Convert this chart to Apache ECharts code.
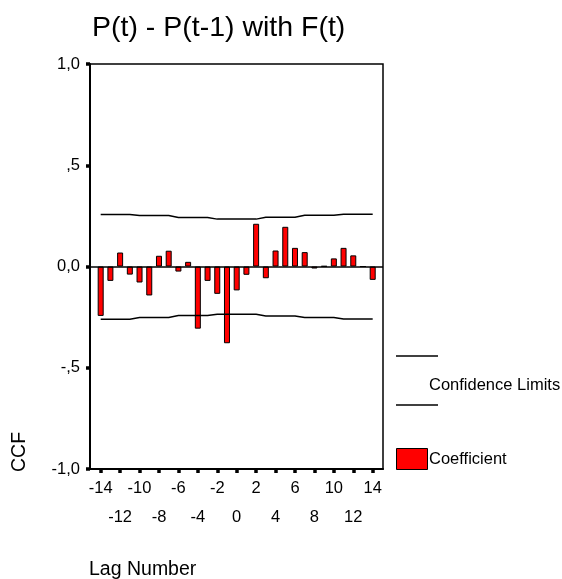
<!DOCTYPE html>
<html>
<head>
<meta charset="utf-8">
<title>CCF</title>
<script src="https://cdn.jsdelivr.net/npm/echarts@6/dist/echarts.min.js"></script>
<style>
  html, body { margin: 0; padding: 0; background: #fff; }
  #chart { width: 562px; height: 579px; }
</style>
</head>
<body>
<div id="chart"></div>
<script>
// Cross-correlation of P(t) - P(t-1) with F(t), lags -14..14
const lags = [-14, -13, -12, -11, -10, -9, -8, -7, -6, -5, -4, -3, -2, -1, 0,
              1, 2, 3, 4, 5, 6, 7, 8, 9, 10, 11, 12, 13, 14];
const coefficient = [-0.244, -0.071, 0.069, -0.040, -0.079, -0.143, 0.053, 0.078, -0.025, 0.023,
                     -0.307, -0.071, -0.135, -0.379, -0.118, -0.041, 0.211, -0.058, 0.079, 0.196,
                     0.092, 0.071, -0.010, 0.002, 0.040, 0.092, 0.055, 0.000, -0.066];
const upperLimit = [0.257, 0.257, 0.257, 0.257, 0.252, 0.252, 0.252, 0.252, 0.242, 0.242,
                    0.242, 0.242, 0.234, 0.234, 0.234, 0.234, 0.234, 0.243, 0.243, 0.243,
                    0.243, 0.253, 0.253, 0.253, 0.253, 0.258, 0.258, 0.258, 0.258];
const lowerLimit = [-0.260, -0.260, -0.260, -0.260, -0.252, -0.252, -0.252, -0.252, -0.242, -0.242,
                    -0.242, -0.242, -0.236, -0.236, -0.236, -0.236, -0.236, -0.244, -0.244, -0.244,
                    -0.244, -0.252, -0.252, -0.252, -0.252, -0.259, -0.259, -0.259, -0.259];
// lag tick marks, and the two staggered rows of lag labels
const xTicks = [-14, -12, -10, -8, -6, -4, -2, 0, 2, 4, 6, 8, 10, 12, 14];
const xLabelsUpper = [-14, -10, -6, -2, 2, 6, 10, 14];
const xLabelsLower = [-12, -8, -4, 0, 4, 8, 12];
const yTickLabels = { '1': '1,0', '0.5': ',5', '0': '0,0', '-0.5': '-,5', '-1': '-1,0' };

const FONT = 'Liberation Sans, Arial, sans-serif';
const X_MIN = -15.1, X_MAX = 15.06;
const chart = echarts.init(document.getElementById('chart'), null, { renderer: 'canvas' });

const labelStyle = { fontFamily: FONT, fontSize: 16.5, color: '#000' };

chart.setOption({
  backgroundColor: '#fff',
  animation: false,
  grid: {
    left: 90, right: 179, top: 64, bottom: 110,
    show: true, borderColor: '#000', borderWidth: 1.5, backgroundColor: 'transparent'
  },
  xAxis: [
    {
      type: 'value', position: 'bottom',
      min: X_MIN, max: X_MAX,
      axisLine: { show: true, onZero: false, lineStyle: { color: '#000', width: 2 } },
      axisTick: { show: true, customValues: xTicks, length: 4, lineStyle: { color: '#000', width: 3.5 } },
      axisLabel: Object.assign({
        customValues: xLabelsUpper,
        showMinLabel: true, showMaxLabel: true, hideOverlap: false,
        margin: 11
      }, labelStyle),
      splitLine: { show: false }
    },
    {
      type: 'value', position: 'bottom', offset: 0,
      min: X_MIN, max: X_MAX,
      axisLine: { show: false, onZero: false },
      axisTick: { show: false },
      axisLabel: Object.assign({
        customValues: xLabelsLower,
        showMinLabel: true, showMaxLabel: true, hideOverlap: false,
        margin: 40
      }, labelStyle),
      splitLine: { show: false }
    }
  ],
  yAxis: {
    type: 'value',
    min: -1, max: 1, interval: 0.5,
    axisLine: { show: true, onZero: false, lineStyle: { color: '#000', width: 2 } },
    axisTick: { show: true, length: 4, lineStyle: { color: '#000', width: 3.5 } },
    axisLabel: Object.assign({
      showMinLabel: true, showMaxLabel: true, hideOverlap: false,
      margin: 10,
      formatter: function (v) { return yTickLabels[String(v)]; }
    }, labelStyle),
    splitLine: { show: false }
  },
  series: [
    {
      name: 'Coefficient',
      type: 'bar',
      barWidth: 6,
      data: lags.map((l, i) => [l, coefficient[i]]),
      itemStyle: { color: '#ff0000', borderColor: '#000', borderWidth: 1 },
      markLine: {
        silent: true, symbol: 'none', label: { show: false },
        lineStyle: { color: '#000', width: 1.5, type: 'solid' },
        data: [{ yAxis: 0 }]
      }
    },
    {
      name: 'Upper',
      type: 'line',
      data: lags.map((l, i) => [l, upperLimit[i]]),
      symbol: 'none',
      lineStyle: { color: '#000', width: 1.5 },
      silent: true
    },
    {
      name: 'Lower',
      type: 'line',
      data: lags.map((l, i) => [l, lowerLimit[i]]),
      symbol: 'none',
      lineStyle: { color: '#000', width: 1.5 },
      silent: true
    }
  ],
  graphic: [
    {
      type: 'text', left: 92, top: 14,
      style: { text: 'P(t) - P(t-1) with F(t)', fontFamily: FONT, fontSize: 28.5, fill: '#000' }
    },
    {
      type: 'text', x: 89, y: 570,
      style: { text: 'Lag Number', fontFamily: FONT, fontSize: 19.5, fill: '#000', verticalAlign: 'middle' }
    },
    {
      type: 'text', x: 20, y: 452, rotation: Math.PI / 2,
      style: { text: 'CCF', fontFamily: FONT, fontSize: 19.5, fill: '#000', align: 'center', verticalAlign: 'middle' }
    },
    // legend: confidence limits
    {
      type: 'line', shape: { x1: 396, y1: 356, x2: 438, y2: 356 },
      style: { stroke: '#000', lineWidth: 1.5 }
    },
    {
      type: 'text', x: 429, y: 385,
      style: { text: 'Confidence Limits', fontFamily: FONT, fontSize: 16.5, fill: '#000', verticalAlign: 'middle' }
    },
    {
      type: 'line', shape: { x1: 396, y1: 405, x2: 438, y2: 405 },
      style: { stroke: '#000', lineWidth: 1.5 }
    },
    // legend: coefficient
    {
      type: 'rect', shape: { x: 396.5, y: 448.5, width: 31, height: 21 },
      style: { fill: '#ff0000', stroke: '#000', lineWidth: 1 }
    },
    {
      type: 'text', x: 429, y: 459,
      style: { text: 'Coefficient', fontFamily: FONT, fontSize: 16.5, fill: '#000', verticalAlign: 'middle' }
    }
  ]
});
</script>
</body>
</html>
